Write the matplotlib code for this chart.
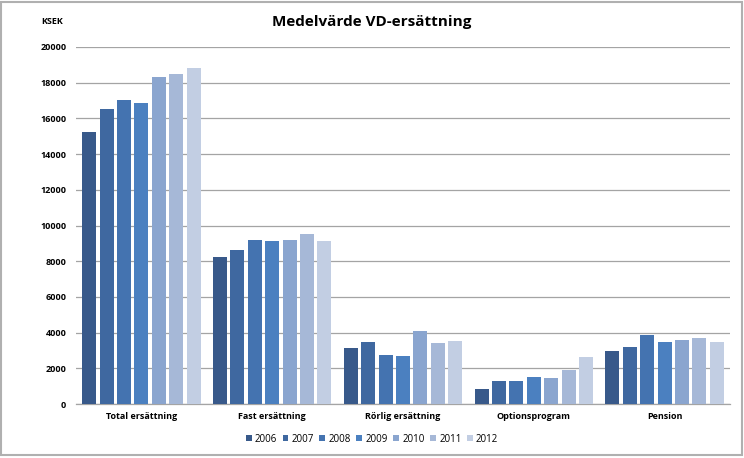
import numpy as np
import matplotlib.pyplot as plt
from matplotlib.patches import Rectangle

categories = ["Total ersättning", "Fast ersättning", "Rörlig ersättning", "Optionsprogram", "Pension"]
years = ["2006", "2007", "2008", "2009", "2010", "2011", "2012"]
values = {
    "2006": [15250, 8250, 3150, 850, 2950],
    "2007": [16500, 8650, 3450, 1300, 3200],
    "2008": [17050, 9200, 2750, 1300, 3850],
    "2009": [16850, 9150, 2700, 1500, 3450],
    "2010": [18300, 9200, 4100, 1450, 3600],
    "2011": [18500, 9550, 3400, 1900, 3700],
    "2012": [18800, 9150, 3550, 2650, 3500],
}
colors = ["#38598A", "#3F68A0", "#4473B0", "#4B80C0", "#8AA5CF", "#A6B8D7", "#C2CEE3"]

plt.rcParams['font.family'] = ['Open Sans', 'DejaVu Sans']

fig = plt.figure(figsize=(7.44, 4.58), dpi=100)
ax = fig.add_axes([76 / 744, 1 - 404 / 458, 654 / 744, 357 / 458])

x = np.arange(len(categories))
pitch = 0.133
width = 0.107
for i, y in enumerate(years):
    ax.bar(x + (i - 3) * pitch, values[y], width, color=colors[i], label=y, zorder=3)

ax.set_xlim(-0.5, len(categories) - 0.5)
ax.set_ylim(0, 20000)
ax.set_yticks(range(0, 20001, 2000))
ax.set_yticklabels([str(v) for v in range(0, 20001, 2000)], fontsize=6.5, fontweight='bold')
ax.set_xticks(x)
ax.set_xticklabels(categories, fontsize=6.5, fontweight='bold')
ax.tick_params(axis='y', length=0, pad=7)
ax.tick_params(axis='x', length=0, pad=6)
ax.grid(axis='y', color='#A4A4A4', linewidth=0.9, zorder=0)
for s in ['top', 'right', 'left']:
    ax.spines[s].set_visible(False)
ax.spines['bottom'].set_color('#A4A4A4')
ax.spines['bottom'].set_linewidth(0.9)

fig.text(0.5, 1 - 22 / 458, "Medelvärde VD-ersättning", ha='center', va='center',
         fontsize=11, fontweight='bold')
fig.text(41 / 744, 1 - 21 / 458, "KSEK", ha='left', va='center', fontsize=6.5, fontweight='bold')

fig.legend(loc='center', bbox_to_anchor=(372 / 744, 1 - 439 / 458), ncol=7, frameon=False,
           fontsize=7, handlelength=0.6, handleheight=0.6, handletextpad=0.3, columnspacing=0.6)

fig.patches.append(Rectangle((1 / 744, 3 / 458), 741 / 744, 453 / 458, transform=fig.transFigure,
                             fill=False, edgecolor='#B0B0B0', linewidth=1.5))

fig.savefig("out.png", dpi=100)
